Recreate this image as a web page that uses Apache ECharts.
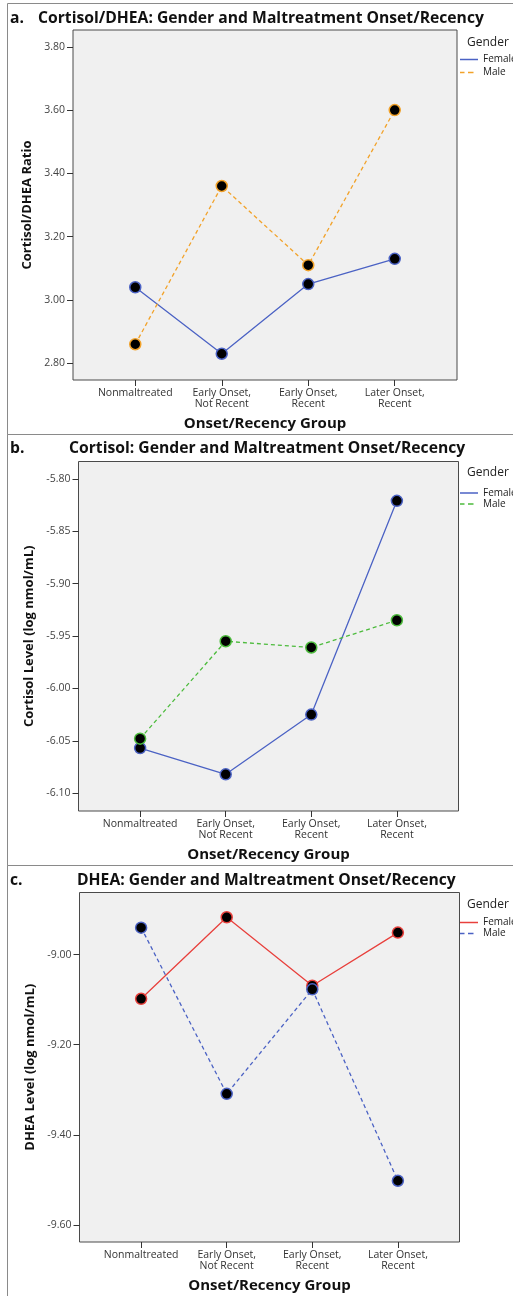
<!DOCTYPE html>
<html>
<head>
<meta charset="utf-8">
<script src="https://cdn.jsdelivr.net/npm/echarts@6/dist/echarts.min.js"></script>
<style>
  html, body { margin: 0; padding: 0; background: #fff; }
  #main { width: 513px; height: 1296px; }
</style>
</head>
<body>
<div id="main"></div>
<script>
  // groups on the x axis
  var categories = ['Nonmaltreated', 'Early Onset,\nNot Recent', 'Early Onset,\nRecent', 'Later Onset,\nRecent'];
  var genders = ['Female', 'Male'];

  // a. cortisol/DHEA ratio
  var ratioFemale = [3.04, 2.83, 3.05, 3.13];
  var ratioMale = [2.86, 3.36, 3.11, 3.60];
  var ratioTicks = [2.8, 3.0, 3.2, 3.4, 3.6, 3.8];

  // b. cortisol (log nmol/mL)
  var cortisolFemale = [-6.057, -6.082, -6.025, -5.821];
  var cortisolMale = [-6.048, -5.955, -5.961, -5.935];
  var cortisolTicks = [-6.10, -6.05, -6.00, -5.95, -5.90, -5.85, -5.80];

  // c. DHEA (log nmol/mL)
  var dheaFemale = [-9.098, -8.917, -9.069, -8.951];
  var dheaMale = [-8.940, -9.309, -9.077, -9.502];
  var dheaTicks = [-9.6, -9.4, -9.2, -9.0];

  var font = '"Open Sans", "DejaVu Sans", sans-serif';
  var solidIcon = 'path://M0,0h18v1.5h-18z';
  var dashIcon = 'path://M0,0h4.5v1.5h-4.5z M8,0h5.5v1.5h-5.5z M18,0L18,1.5z';

  var panels = [
    {
      letter: 'a.', title: 'Cortisol/DHEA: Gender and Maltreatment Onset/Recency', titleX: 38, titleY: 11,
      yName: 'Cortisol/DHEA Ratio', nameGap: 38,
      female: ratioFemale, male: ratioMale, ticks: ratioTicks, min: 2.747, max: 3.853,
      femaleColor: '#4b62c4', maleColor: '#f2a229',
      grid: {left: 73, top: 30, width: 384, height: 350},
      box: {y: 3.5, h: 431}, genderY: 37, legendY: 54, legendGap: 2
    },
    {
      letter: 'b.', title: 'Cortisol: Gender and Maltreatment Onset/Recency', titleX: 69, titleY: 441,
      yName: 'Cortisol Level (log nmol/mL)', nameGap: 42,
      female: cortisolFemale, male: cortisolMale, ticks: cortisolTicks, min: -6.117, max: -5.7835,
      femaleColor: '#4b62c4', maleColor: '#4cbb3c',
      grid: {left: 78.5, top: 461.5, width: 380, height: 349.5},
      box: {y: 434.5, h: 431}, genderY: 467, legendY: 487.5, legendGap: 0
    },
    {
      letter: 'c.', title: 'DHEA: Gender and Maltreatment Onset/Recency', titleX: 77, titleY: 873,
      yName: 'DHEA Level (log nmol/mL)', nameGap: 43,
      female: dheaFemale, male: dheaMale, ticks: dheaTicks, min: -9.638, max: -8.862,
      femaleColor: '#e8403c', maleColor: '#4b62c4',
      grid: {left: 79.5, top: 892.5, width: 380, height: 349.5},
      box: {y: 865.5, h: 440}, genderY: 899, legendY: 917, legendGap: 0
    }
  ];

  var option = {
    animation: false,
    backgroundColor: '#fff',
    textStyle: {fontFamily: font},
    title: [], legend: [], grid: [], xAxis: [], yAxis: [], series: [], graphic: []
  };

  var xValues = categories.map(function (c, k) { return k; });

  panels.forEach(function (p, i) {
    option.graphic.push({
      type: 'rect', silent: true,
      shape: {x: 7.5, y: p.box.y, width: 530, height: p.box.h},
      style: {fill: 'none', stroke: '#8a8a8a', lineWidth: 1}
    });
    option.title.push({
      text: p.letter, left: 10, top: p.titleY, padding: 0,
      textStyle: {fontFamily: font, fontSize: 15.7, fontWeight: 'bold', color: '#111'}
    });
    option.title.push({
      text: p.title, left: p.titleX, top: p.titleY, padding: 0,
      textStyle: {fontFamily: font, fontSize: 15.7, fontWeight: 'bold', color: '#111'}
    });
    option.title.push({
      text: 'Gender', left: 467, top: p.genderY, padding: 0,
      textStyle: {fontFamily: font, fontSize: 12, fontWeight: 'normal', color: '#222'}
    });
    option.legend.push({
      orient: 'vertical', left: 460, top: p.legendY, padding: 0,
      itemWidth: 18, itemHeight: 11, itemGap: p.legendGap, selectedMode: false,
      textStyle: {fontFamily: font, fontSize: 10, lineHeight: 11, color: '#222'},
      data: [
        {name: 'Female', icon: solidIcon, itemStyle: {color: p.femaleColor, borderWidth: 0}},
        {name: 'Male', icon: dashIcon, itemStyle: {color: p.maleColor, borderWidth: 0}}
      ]
    });
    option.grid.push({
      left: p.grid.left, top: p.grid.top, width: p.grid.width, height: p.grid.height,
      show: true, backgroundColor: '#f0f0f0', borderColor: '#4a4a4a', borderWidth: 1,
      outerBoundsMode: 'none'
    });
    option.xAxis.push({
      type: 'value', gridIndex: i, min: -0.72, max: 3.72,
      name: 'Onset/Recency Group', nameLocation: 'middle', nameGap: 36,
      nameTextStyle: {fontFamily: font, fontSize: 15, fontWeight: 'bold', color: '#111'},
      axisLine: {show: false, onZero: false},
      splitLine: {show: false},
      axisTick: {show: true, customValues: xValues, length: 6, lineStyle: {color: '#333'}},
      axisLabel: {
        customValues: xValues, margin: 8, fontSize: 10.5, lineHeight: 10.5, color: '#333',
        formatter: function (v) { return categories[v]; }
      }
    });
    option.yAxis.push({
      type: 'value', gridIndex: i, min: p.min, max: p.max,
      name: p.yName, nameLocation: 'middle', nameGap: p.nameGap,
      nameTextStyle: {fontFamily: font, fontSize: 13, fontWeight: 'bold', color: '#111'},
      axisLine: {show: false, onZero: false},
      splitLine: {show: false},
      axisTick: {show: true, customValues: p.ticks, length: 6, lineStyle: {color: '#333'}},
      axisLabel: {
        customValues: p.ticks, margin: 8, fontSize: 10.5, color: '#444',
        formatter: function (v) { return v.toFixed(2); }
      }
    });
    [p.female, p.male].forEach(function (vals, g) {
      var color = g === 0 ? p.femaleColor : p.maleColor;
      option.series.push({
        type: 'line', name: genders[g], xAxisIndex: i, yAxisIndex: i,
        data: vals.map(function (v, k) { return [k, v]; }),
        symbol: 'circle', symbolSize: 11,
        lineStyle: {color: color, width: 1.3, type: g === 0 ? 'solid' : [4, 3]},
        itemStyle: {color: '#000', borderColor: color, borderWidth: 1.5},
        emphasis: {disabled: true}
      });
    });
  });

  var myChart = echarts.init(document.getElementById('main'));
  myChart.setOption(option);
</script>
</body>
</html>
